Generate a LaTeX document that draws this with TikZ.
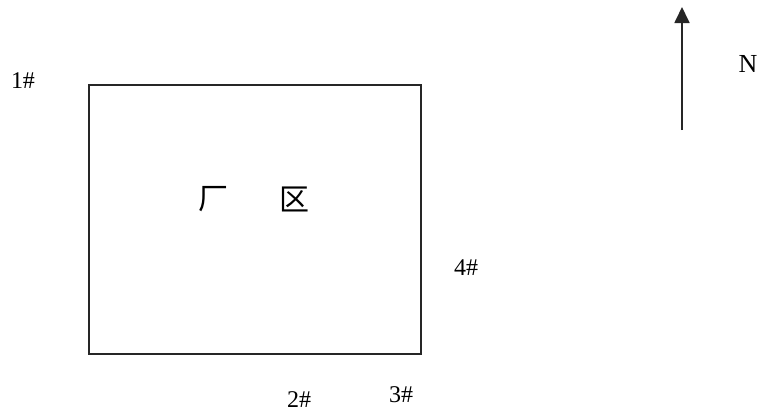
\documentclass[tikz,border=0pt]{standalone}
\usepackage{fontspec}
\setmainfont{Liberation Serif}
\newfontfamily\cjk{Noto Sans CJK SC}
\usetikzlibrary{arrows.meta}
\tikzset{
  lbl/.style={font=\fontsize{24}{24}\selectfont, inner sep=0pt, anchor=base},
  cjklbl/.style={font=\cjk\fontsize{30}{30}\selectfont, inner sep=0pt, anchor=center},
  plot/.style={draw=black!85, line width=1.8pt},
}
\begin{document}
\begin{tikzpicture}[x=1pt,y=-1pt]
\useasboundingbox (0,0) rectangle (761,413);
\node[plot, minimum width=332pt, minimum height=269pt, inner sep=0pt, anchor=north west] (site) at (88,84) {};
\node[cjklbl] (chang) at (213,199) {厂};
\node[cjklbl] (qu) at (294,199) {区};
\node[lbl] (p1) at (23,88) {1\#};
\node[lbl] (p2) at (299,407) {2\#};
\node[lbl] (p3) at (401,402) {3\#};
\node[lbl] (p4) at (466,275) {4\#};
\node[lbl, font=\fontsize{26}{26}\selectfont] (n) at (748,72) {N};
\coordinate (ntail) at (682,130);
\coordinate (nhead) at (682,7);
\draw[draw=black!85, line width=1.8pt, -{Triangle[length=16pt,width=15pt]}] (ntail) -- (nhead);
\end{tikzpicture}
\end{document}
